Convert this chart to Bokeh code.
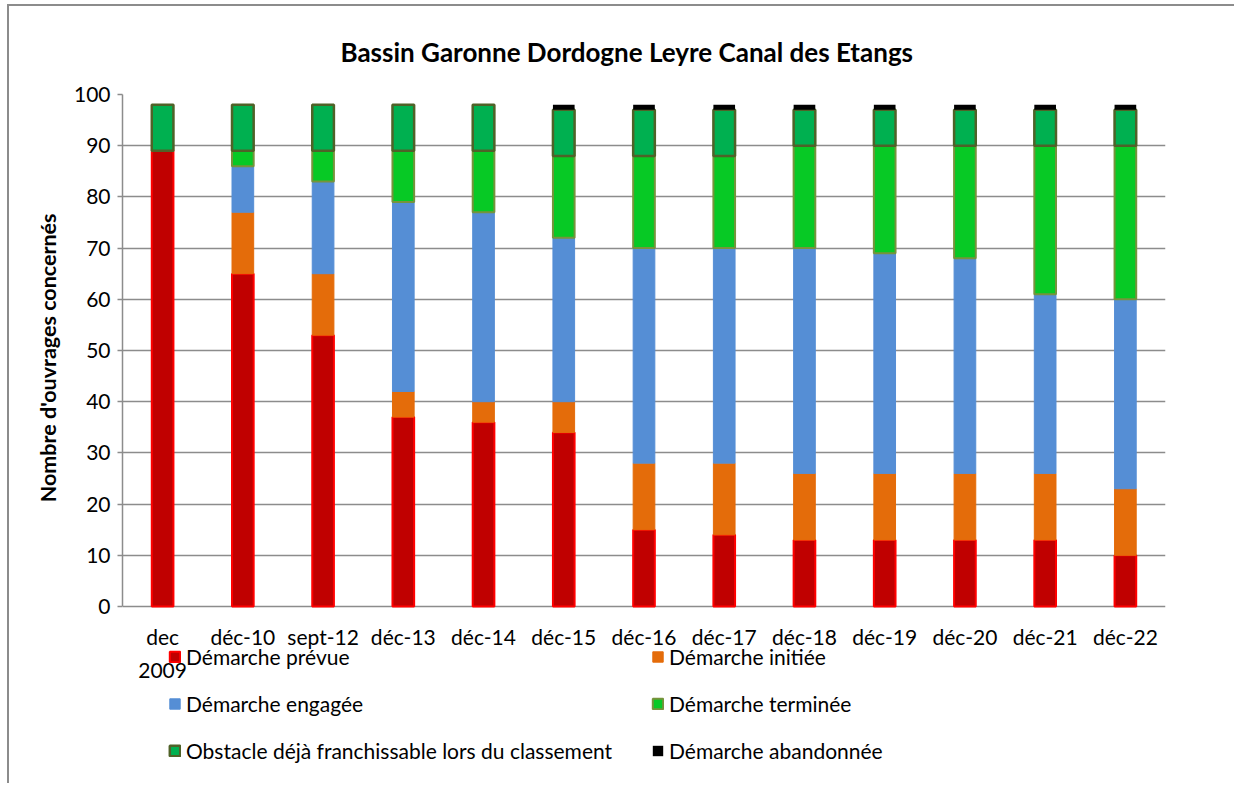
from bokeh.plotting import figure
from bokeh.models import ColumnDataSource, Legend, LegendItem, FactorRange, Title
from bokeh.core.properties import value
from bokeh.embed import file_html
from bokeh.resources import INLINE

periods = ["dec\n2009", "déc-10", "sept-12", "déc-13", "déc-14", "déc-15", "déc-16",
           "déc-17", "déc-18", "déc-19", "déc-20", "déc-21", "déc-22"]
prevue = [89, 65, 53, 37, 36, 34, 15, 14, 13, 13, 13, 13, 10]
initiee = [0, 12, 12, 5, 4, 6, 13, 14, 13, 13, 13, 13, 13]
engagee = [0, 9, 18, 37, 37, 32, 42, 42, 44, 43, 42, 35, 37]
terminee = [0, 3, 6, 10, 12, 16, 18, 18, 20, 21, 22, 29, 30]
obstacle = [9, 9, 9, 9, 9, 9, 9, 9, 7, 7, 7, 7, 7]
abandonnee = [0, 0, 0, 0, 0, 1, 1, 1, 1, 1, 1, 1, 1]
y_ticks = [0, 10, 20, 30, 40, 50, 60, 70, 80, 90, 100]

series_names = ["Démarche prévue", "Démarche initiée", "Démarche engagée",
                "Démarche terminée", "Obstacle déjà franchissable lors du classement",
                "Démarche abandonnée"]
keys = ["prevue", "initiee", "engagee", "terminee", "obstacle", "abandonnee"]
fills = ["#C00000", "#E46C0A", "#558ED5", "#07C925", "#00B050", "#000000"]
lines = ["#FF0000", "#E46C0A", "#558ED5", "#77933C", "#4F6228", None]
lwidths = [2, 1, 1, 2, 2.5, 0]

FONT = "Lato"
GRID = "#8C8C8C"

# layout constants (pixels, page coordinates)
OX, OY = 9, 6           # chart-area border offset
FRAME_TOP, ZERO_PX, FRAME_BOTTOM = 94, 606, 783
PX_PER_UNIT = (ZERO_PX - FRAME_TOP) / 100.0
y_start = -(FRAME_BOTTOM - ZERO_PX) / PX_PER_UNIT

source = ColumnDataSource(dict(period=periods, prevue=prevue, initiee=initiee,
                               engagee=engagee, terminee=terminee,
                               obstacle=obstacle, abandonnee=abandonnee))

p = figure(x_range=FactorRange(factors=periods), y_range=(y_start, 100),
           frame_width=1043, frame_height=FRAME_BOTTOM - FRAME_TOP,
           output_backend="svg", toolbar_location=None,
           min_border_left=122 - OX, min_border_right=69, min_border_top=FRAME_TOP - OY,
           min_border_bottom=0,
           styles={"margin-left": "7px", "margin-top": "4px",
                   "border-left": "2px solid #8C8C8C", "border-top": "2px solid #8C8C8C"})

renderers = p.vbar_stack(keys, x="period", width=0.27, source=source,
                         fill_color=fills, line_color=lines, line_width=lwidths)

# category labels under the baseline
p.text(x=periods, y=[0] * len(periods), text=periods, y_offset=17,
       text_align="center", text_baseline="top", text_font=value(FONT),
       text_font_size="21px", text_color="#000000", text_line_height=1.35)

p.title = Title(text="Bassin Garonne Dordogne Leyre Canal des Etangs", align="left",
                text_font=FONT, text_font_size="26px", text_font_style="bold",
                text_color="#000000", standoff=54, offset=218)

p.outline_line_color = None
p.xaxis.visible = False
p.xgrid.grid_line_color = None
p.ygrid.grid_line_color = GRID
p.ygrid.grid_line_width = 1.5

p.yaxis.ticker = y_ticks
p.yaxis.bounds = (0, 100)
p.yaxis.axis_line_color = GRID
p.yaxis.axis_line_width = 1.5
p.yaxis.major_tick_line_color = GRID
p.yaxis.major_tick_line_width = 1.5
p.yaxis.major_tick_out = 5
p.yaxis.major_tick_in = 0
p.yaxis.minor_tick_line_color = None
p.yaxis.major_label_text_font = FONT
p.yaxis.major_label_text_font_size = "21px"
p.yaxis.major_label_text_color = "#000000"
p.yaxis.major_label_standoff = 7

ylabel = Title(text="Nombre d'ouvrages concernés", align="right", offset=119,
               text_font=FONT, text_font_size="21.5px", text_font_style="bold",
               text_color="#000000", standoff=19)
p.add_layout(ylabel, "left")

order = [0, 2, 4, 1, 3, 5]
items = [LegendItem(label=series_names[i], renderers=[renderers[i]]) for i in order]
legend = Legend(items=items, ncols=2, orientation="vertical", location=(46, 20),
                label_text_font=FONT, label_text_font_size="21px",
                label_text_color="#000000", glyph_width=13, glyph_height=13,
                label_width=443, label_height=24, spacing=22, padding=0, margin=0,
                border_line_color=None, background_fill_alpha=0,
                label_standoff=5)
p.add_layout(legend, "center")

open("out.html", "w").write(file_html(p, INLINE))
